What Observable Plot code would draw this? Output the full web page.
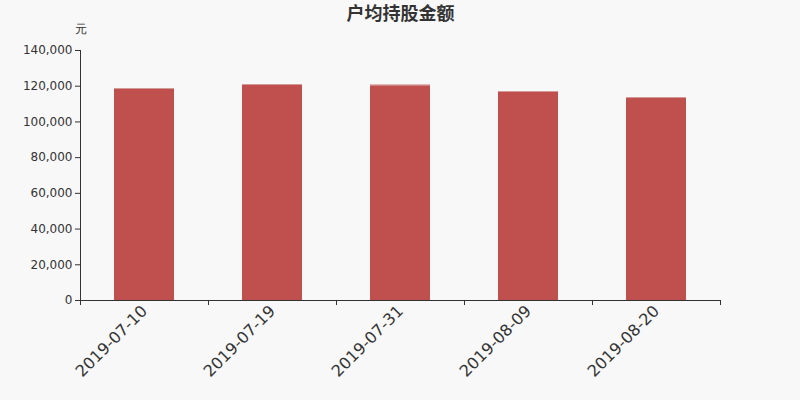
<!DOCTYPE html>
<html>
<head>
<meta charset="utf-8">
<script src="https://cdn.jsdelivr.net/npm/d3@7"></script>
<script src="https://cdn.jsdelivr.net/npm/@observablehq/plot@0.6"></script>
<style>
  html, body { margin: 0; padding: 0; background: #f8f8f8; }
  #chart svg { display: block; background: #f8f8f8; }
</style>
</head>
<body>
<div id="chart"></div>
<script>
const title = "户均持股金额";
const unit = "元";
const dates = ["2019-07-10", "2019-07-19", "2019-07-31", "2019-08-09", "2019-08-20"];
const values = [118720, 120960, 120570, 117040, 113680];
const yTicks = [0, 20000, 40000, 60000, 80000, 100000, 120000, 140000];

const data = dates.map((d, i) => ({date: d, value: values[i]}));
const font = "DejaVu Sans, sans-serif";

const chart = Plot.plot({
  width: 800,
  height: 400,
  marginLeft: 80,
  marginRight: 80,
  marginTop: 50,
  marginBottom: 100,
  style: {background: "#f8f8f8", fontFamily: font, color: "#333"},
  x: {domain: dates, paddingInner: 0.53125, paddingOuter: 0.265625, align: 0.5},
  y: {domain: [0, 140000]},
  marks: [
    Plot.barY(data, {x: "date", y: "value", fill: "#c0504d"}),
    Plot.tickY(data, {x: "date", y: "value", stroke: "#d49a98", strokeWidth: 1}),
    Plot.axisY({ticks: yTicks, tickFormat: d3.format(","), tickSize: 5, tickPadding: 3, fontSize: 12, fill: "#333", stroke: "#333", label: null}),
    Plot.axisX({tickRotate: -45, tickSize: 0, tickPadding: 8, fontSize: 16, fill: "#333", label: null}),
    Plot.frame({anchor: "left", stroke: "#333"}),
    Plot.frame({anchor: "bottom", stroke: "#333"}),
    Plot.ruleX(dates, {x: d => d, y1: 0, y2: 0, dx: -64, stroke: "#333", insetBottom: -5}),
    Plot.ruleX([dates[dates.length - 1]], {y1: 0, y2: 0, dx: 64, stroke: "#333", insetBottom: -5}),
    Plot.text([title], {frameAnchor: "top", lineAnchor: "middle", dy: -36, fontSize: 18, fontWeight: "bold", fill: "#333", fontFamily: "Noto Sans CJK SC, sans-serif", style: "letter-spacing:2px"}),
    Plot.text([unit], {frameAnchor: "top-left", lineAnchor: "middle", dy: -21, dx: 0, fontSize: 12, fill: "#333", textAnchor: "middle"})
  ]
});
document.getElementById("chart").appendChild(chart);
</script>
</body>
</html>
